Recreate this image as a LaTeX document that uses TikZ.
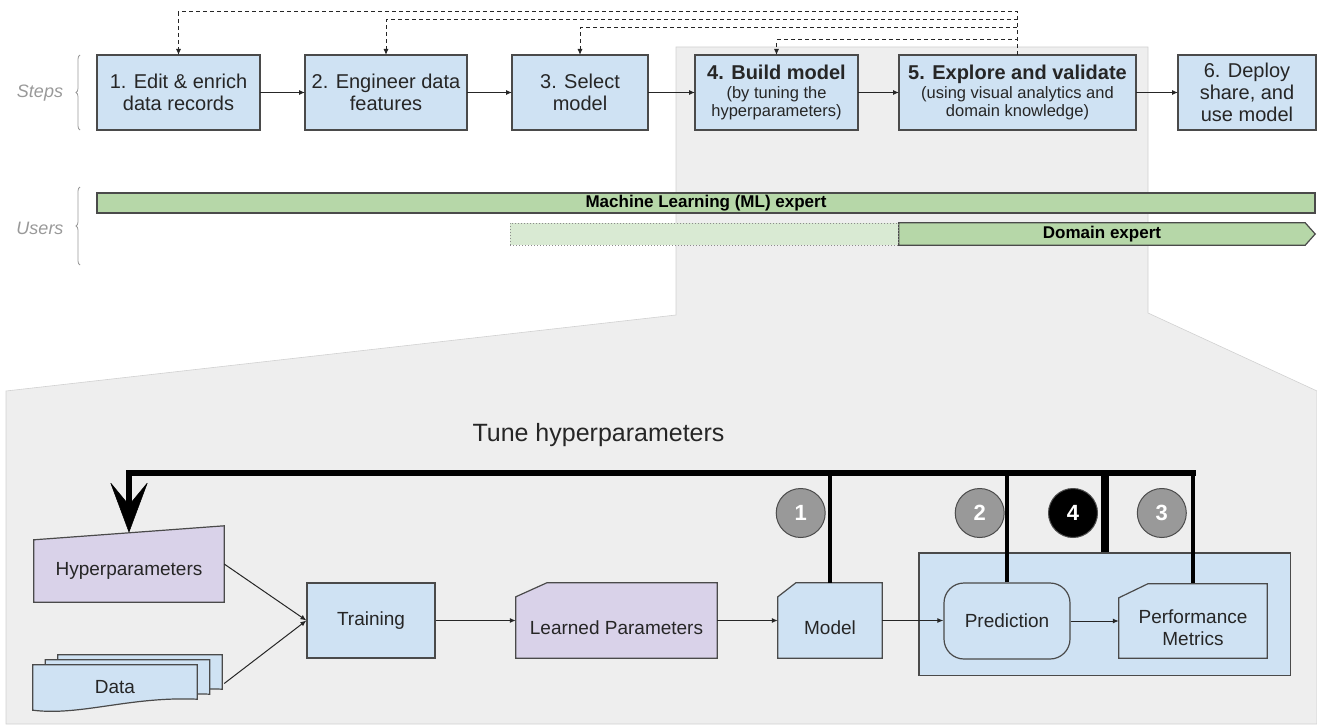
\documentclass[tikz,border=0pt]{standalone}
\usepackage{fontspec}
\setmainfont{Liberation Sans}
\usepackage{tikz}
\usetikzlibrary{shapes, arrows.meta, positioning, calc, backgrounds, decorations.pathreplacing}
\definecolor{stepblue}{HTML}{CFE2F3}
\definecolor{parampurple}{HTML}{D9D2E9}
\definecolor{mlgreen}{HTML}{B6D7A8}
\definecolor{palegreen}{HTML}{D9EAD3}
\definecolor{zoomgray}{HTML}{EEEEEE}
\definecolor{edgegray}{HTML}{4A4A4A}
\definecolor{labelgray}{HTML}{999999}
\pgfdeclarelayer{backdrop}
\pgfsetlayers{backdrop,background,main}
\tikzset{
    stepbox/.style = {rectangle, draw=edgegray, fill=stepblue, line width=1.2pt, align=center, text centered, minimum height=75pt, inner sep=2pt, outer sep=0pt, text=black!85, font=\fontsize{20}{22}\selectfont},
    userbar/.style = {rectangle, draw=edgegray, fill=mlgreen, line width=1.2pt, minimum height=20pt, inner sep=0pt, font=\fontsize{17}{17}\selectfont\bfseries},
    palebar/.style = {rectangle, draw=black!45, dotted, fill=palegreen, line width=1pt, minimum height=22pt, inner sep=0pt},
    proc/.style = {rectangle, draw=edgegray, fill=stepblue, line width=1.2pt, text centered, inner sep=2pt, text=black!85, font=\fontsize{19}{22}\selectfont},
    shapeonly/.style = {rectangle, inner sep=2pt, align=center, text=black!85, font=\fontsize{19}{22}\selectfont},
    cardshape/.style = {draw=edgegray, line width=1.2pt},
    badge/.style = {circle, minimum size=49pt, inner sep=0pt, fill=labelgray, draw=black!70, line width=1pt, text=white, font=\fontsize{22}{22}\selectfont\bfseries},
    sidelabel/.style = {text=labelgray, font=\fontsize{18}{18}\selectfont\itshape},
    brace/.style = {decorate, decoration={brace, amplitude=4pt}, draw=labelgray, line width=0.8pt},
    line/.style = {draw=black!85, line width=1pt, -{Latex[length=6pt, width=5pt]}},
    fbline/.style = {draw=black!85, line width=1pt, dash pattern=on 4pt off 3pt, -{Latex[length=6pt, width=5pt]}},
    bus/.style = {draw=black, line width=6.7pt, miter limit=2},
    tap/.style = {draw=black, line width=4.7pt}
}

\begin{document}
\begin{tikzpicture}[x=1pt, y=-1pt, node distance=44pt]
        \useasboundingbox (0,0) rectangle (1317,725);

        % Zoom backdrop
        \begin{pgfonlayer}{backdrop}
            \filldraw[fill=zoomgray, draw=black!18, line width=0.6pt] (676,47) -- (1148,47) -- (1148,313) -- (1317,391) -- (1317,724) -- (6,724) -- (6,391) -- (676,315) -- cycle;
        \end{pgfonlayer}

        % Steps
        \node [stepbox, minimum width=163pt] (edit) at (178.5,92.5) {1. Edit \& enrich\\data records};
        \node [stepbox, minimum width=162pt, right=45pt of edit] (features) {2. Engineer data\\features};
        \node [stepbox, minimum width=136pt, right=45pt of features] (select) {3. Select\\model};
        \node [stepbox, minimum width=163pt, right=47pt of select, font=\fontsize{16.5}{18.5}\selectfont] (build) {{\fontsize{20}{22}\selectfont\bfseries 4. Build model}\\(by tuning the\\hyperparameters)};
        \node [stepbox, minimum width=237pt, right=41pt of build, font=\fontsize{16.5}{18.5}\selectfont] (explore) {{\fontsize{20}{22}\selectfont\bfseries 5. Explore and validate}\\(using visual analytics and\\domain knowledge)};
        \node [stepbox, minimum width=138pt, right=42pt of explore] (deploy) {6. Deploy\\share, and\\use model};

        \path [line] (edit) -- (features);
        \path [line] (features) -- (select);
        \path [line] (select) -- (build);
        \path [line] (build) -- (explore);
        \path [line] (explore) -- (deploy);

        % Feedback to earlier steps
        \path [fbline] (explore.north) -- ++(0,-43) -| (edit.north);
        \path [fbline] (explore.north) -- ++(0,-35) -| (features.north);
        \path [fbline] (explore.north) -- ++(0,-27) -| (select.north);
        \path [fbline] (explore.north) -- ++(0,-15) -| (build.north);

        \draw [brace] (80,130) -- (80,55);
        \node [sidelabel] (steps) at (40,93) {Steps};

        % Users
        \node [userbar, minimum width=1218pt] (ml) at (706,203) {Machine Learning (ML) expert};
        \node [rectangle, minimum width=406pt, minimum height=22pt, inner sep=0pt, font=\fontsize{17}{17}\selectfont\bfseries] (domain) at (1102,234) {Domain expert};
        \node [palebar, minimum width=388pt, left=0pt of domain] (early) {};
        \begin{scope}[on background layer]
            \filldraw [fill=mlgreen, draw=edgegray, line width=1.2pt] (domain.north west) -- (domain.north east) -- ($(domain.east)+(10,0)$) -- (domain.south east) -- (domain.south west) -- cycle;
        \end{scope}

        \draw [brace] (80,265) -- (80,187);
        \node [sidelabel] (users) at (40,228) {Users};

        % Tuning loop
        \node [font=\fontsize{25}{28}\selectfont, text=black!85] (tunetitle) at (598.5,435) {Tune hyperparameters};

        \node [shapeonly, minimum width=190pt, minimum height=62pt] (hyper) at (129,571) {Hyperparameters};
        \node [shapeonly, minimum width=164pt, minimum height=45pt] (data) at (115,687.5) {Data};
        \node [proc, minimum width=128pt, minimum height=75pt] (training) at (371,620.5) {Training};
        \node [shapeonly, minimum width=201pt, minimum height=61pt] (learned) at (616.5,627.5) {Learned Parameters};
        \node [shapeonly, minimum width=104pt, minimum height=61pt] (model) at (830,627.5) {Model};
        \node [proc, rounded corners=20pt, minimum width=126pt, minimum height=76pt] (pred) at (1007,621) {Prediction};
        \node [shapeonly, minimum width=148pt, minimum height=60pt] (metrics) at (1193,628) {Performance\\Metrics};

        \begin{scope}[on background layer]
            \node [rectangle, draw=edgegray, fill=stepblue, line width=1.2pt, minimum width=371.6pt, minimum height=122.7pt] (evalbox) at (1104.8,614.4) {};
            \filldraw [cardshape, fill=parampurple] (hyper.south west) -- (hyper.south east) -- ($(hyper.north east)+(0,-14)$) -- (hyper.north west) -- cycle;
            \foreach \k in {2,1,0} {
                \pgfmathsetmacro{\dx}{\k*12.5}
                \pgfmathsetmacro{\dy}{-\k*5}
                \filldraw [cardshape, fill=stepblue] ($(data.north west)+(\dx,\dy)$) -- ($(data.north east)+(\dx,\dy)$) -- ($(data.south east)+(\dx,\dy-11)$) .. controls ($(data.south)+(\dx+15,\dy-14)$) and ($(data.south)+(\dx-35,\dy+6)$) .. ($(data.south west)+(\dx,\dy)$) -- cycle;
            }
            \foreach \n/\c/\f in {learned/31/parampurple, model/18/stepblue, metrics/29/stepblue}
                \filldraw [cardshape, fill=\f] (\n.south west) -- (\n.south east) -- ($(\n.north east)+(0,-14)$) -- ($(\n.north west)+(\c,-14)$) -- (\n.north west) -- cycle;
        \end{scope}

        \path [line] ($(hyper.east)+(0,-7)$) -- (training.west);
        \path [line] ($(data.east)+(27,-4)$) -- (training.west);
        \path [line] (training.east) -- (training.east -| learned.west);
        \path [line] (training.east -| learned.east) -- (training.east -| model.west);
        \path [line] (training.east -| model.east) -- (training.east -| pred.west);
        \path [line] (pred.east) -- (pred.east -| metrics.west);

        % Feedback bus
        \coordinate (tune) at (1195.5,473);
        \draw [tap] ($(model.north)+(0,-14)$) -- (model.north |- tune);
        \draw [tap] (pred.north) -- (pred.north |- tune);
        \draw [tap] ($(metrics.north)+(0,-15)$) -- (metrics.north |- tune);
        \draw [tap, line width=8.4pt] (evalbox.north) -- (evalbox.north |- tune);
        \draw [bus, -{Stealth[length=51pt, width=38pt, inset=23pt, line width=0.5pt]}] (tune) -| ($(hyper.north)+(0,-7)$);

        \node [badge] (b1) at (800.7,513) {1};
        \node [badge] (b2) at (979.7,513) {2};
        \node [badge, fill=black] (b4) at (1073,513) {4};
        \node [badge] (b3) at (1161.8,513) {3};
    \end{tikzpicture}
\end{document}
